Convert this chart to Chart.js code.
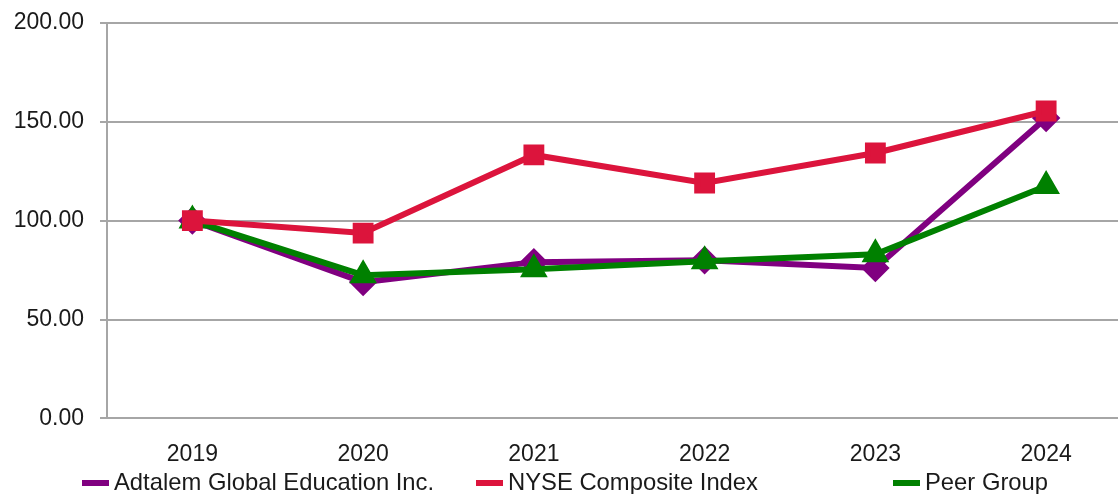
<!DOCTYPE html>
<html>
<head>
<meta charset="utf-8">
<script src="https://cdn.jsdelivr.net/npm/chart.js@4"></script>
<style>
  html, body { margin: 0; padding: 0; background: #fff; overflow: hidden; }
  #wrap { width: 1148px; height: 501px; margin-top: -7px; }
</style>
</head>
<body>
<div id="wrap"><canvas id="grafica" width="1148" height="501"></canvas></div>
<script>
const anios = ["2019", "2020", "2021", "2022", "2023", "2024"];
const adtalem = [100, 68.9, 79.0, 80.0, 76.0, 151.9];
const nyse = [100, 93.7, 133.2, 119.0, 134.2, 155.4];
const peer = [100, 72.4, 75.4, 79.5, 83.0, 117.5];
const ticksY = [0, 50, 100, 150, 200];

const nombres = ["Adtalem Global Education Inc.", "NYSE Composite Index", "Peer Group"];
const colores = ["#800080", "#dc143c", "#008000"];
const fuente = "'Liberation Sans', Arial, sans-serif";

// leyenda propia, en columnas como la original
const leyenda = {
  id: "leyenda",
  afterDraw(chart) {
    const ctx = chart.ctx;
    const xs = [82, 476, 893];
    const y = 490;
    ctx.save();
    ctx.font = "23.8px " + fuente;
    ctx.textBaseline = "middle";
    ctx.textAlign = "left";
    nombres.forEach(function(n, i) {
      ctx.fillStyle = colores[i];
      ctx.fillRect(xs[i], y - 3, 27, 6);
      ctx.fillStyle = "#1a1a1a";
      ctx.fillText(n, xs[i] + 32, y);
    });
    ctx.restore();
  }
};

new Chart(document.getElementById("grafica"), {
  type: "line",
  data: {
    labels: anios,
    datasets: [{
      label: nombres[0],
      data: adtalem,
      borderColor: colores[0],
      backgroundColor: colores[0],
      borderWidth: 6,
      pointStyle: "rectRot",
      pointRadius: 10,
      order: 2
    }, {
      label: nombres[1],
      data: nyse,
      borderColor: colores[1],
      backgroundColor: colores[1],
      borderWidth: 6,
      pointStyle: "rect",
      pointRadius: 10.5,
      order: 0
    }, {
      label: nombres[2],
      data: peer,
      borderColor: colores[2],
      backgroundColor: colores[2],
      borderWidth: 6,
      pointStyle: "triangle",
      pointRadius: 10,
      order: 1
    }]
  },
  options: {
    responsive: false,
    animation: false,
    layout: { padding: { top: 1, bottom: 12, left: 0, right: 0 } },
    plugins: {
      legend: { display: false },
      tooltip: { enabled: false }
    },
    elements: { line: { tension: 0 } },
    scales: {
      x: {
        offset: true,
        grid: { display: false },
        border: { display: true, color: "#a6a6a6", width: 2 },
        ticks: {
          color: "#1a1a1a",
          padding: 14,
          font: { family: fuente, size: 23 }
        }
      },
      y: {
        min: 0,
        max: 200,
        afterFit(scale) { scale.width = 107; },
        afterBuildTicks(scale) { scale.ticks = ticksY.map(v => ({ value: v })); },
        grid: { color: "#a6a6a6", lineWidth: 2, tickLength: 7 },
        border: { display: true, color: "#a6a6a6", width: 2 },
        ticks: {
          color: "#1a1a1a",
          padding: 16,
          font: { family: fuente, size: 23 },
          callback: v => v.toFixed(2)
        }
      }
    }
  },
  plugins: [leyenda]
});
</script>
</body>
</html>
